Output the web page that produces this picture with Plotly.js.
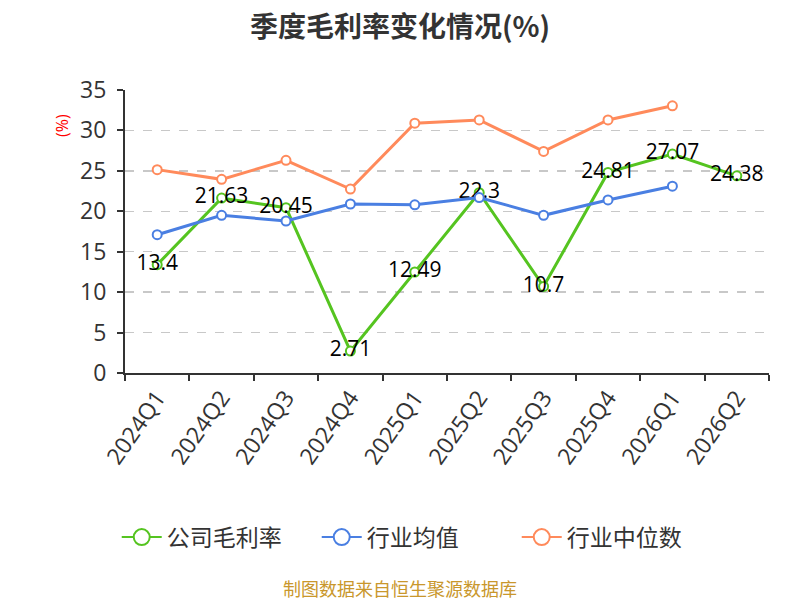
<!DOCTYPE html>
<html>
<head>
<meta charset="utf-8">
<script src="https://cdn.plot.ly/plotly-3.0.1.min.js"></script>
<style>
  html, body { margin: 0; padding: 0; background: #fff; }
  #chart { width: 800px; height: 600px; }
</style>
</head>
<body>
<div id="chart"></div>
<script>
// quarters on the x axis
var quarters = ['2024Q1', '2024Q2', '2024Q3', '2024Q4', '2025Q1', '2025Q2', '2025Q3', '2025Q4', '2026Q1', '2026Q2'];

// company gross margin (%)
var companyMargin = [13.4, 21.63, 20.45, 2.71, 12.49, 22.3, 10.7, 24.81, 27.07, 24.38];
// industry average (%)
var industryAvg = [17.1, 19.5, 18.8, 20.9, 20.8, 21.7, 19.5, 21.4, 23.1];
// industry median (%)
var industryMedian = [25.15, 23.95, 26.3, 22.75, 30.9, 31.3, 27.4, 31.3, 33.05];

var seriesNames = ['公司毛利率', '行业均值', '行业中位数'];
var seriesColors = ['#55c420', '#4a7fe2', '#ff8a5b'];

var font = '"Open Sans", "Noto Sans CJK SC", sans-serif';
var cjk = '"Noto Sans CJK SC", "Open Sans", sans-serif';

function series(i, y, withText) {
  var color = seriesColors[i];
  var t = {
    x: quarters.slice(0, y.length),
    y: y,
    name: seriesNames[i],
    type: 'scatter',
    mode: withText ? 'lines+markers+text' : 'lines+markers',
    line: {color: color, width: 3},
    marker: {symbol: 'circle', size: 9, color: '#fff', line: {color: color, width: 2}},
    cliponaxis: false,
    showlegend: false
  };
  if (withText) {
    t.text = y.map(String);
    t.textposition = 'middle center';
    t.textfont = {family: font, size: 21, color: '#000'};
  }
  return t;
}

// legend-only entries with the larger open circle symbol
function legendEntry(i) {
  var color = seriesColors[i];
  return {
    x: [null], y: [null],
    name: seriesNames[i],
    type: 'scatter',
    mode: 'lines+markers',
    line: {color: color, width: 2},
    marker: {symbol: 'circle', size: 16, color: '#fff', line: {color: color, width: 2}},
    showlegend: true,
    hoverinfo: 'skip'
  };
}

var data = [
  series(0, companyMargin, true),
  series(1, industryAvg, false),
  series(2, industryMedian, false),
  legendEntry(0), legendEntry(1), legendEntry(2)
];

var layout = {
  width: 800,
  height: 600,
  margin: {l: 125, r: 31, t: 90, b: 227},
  paper_bgcolor: '#fff',
  plot_bgcolor: '#fff',
  font: {family: font, color: '#333'},
  title: {
    text: '<b>季度毛利率变化情况(%)</b>',
    font: {family: cjk, size: 28, color: '#333'},
    x: 0.5, xanchor: 'center',
    y: 0.955, yanchor: 'middle', yref: 'container'
  },
  xaxis: {
    type: 'category',
    categoryorder: 'array',
    categoryarray: quarters,
    range: [-0.5, quarters.length - 0.5],
    tickson: 'boundaries',
    ticks: 'outside',
    ticklen: 6,
    tickwidth: 2,
    tickcolor: '#333',
    showline: true,
    linecolor: '#333',
    linewidth: 2,
    showgrid: false,
    tickangle: -55,
    tickfont: {family: font, size: 23, color: '#333'},
    fixedrange: true
  },
  yaxis: {
    range: [0, 35],
    dtick: 5,
    ticks: 'outside',
    ticklen: 6,
    tickwidth: 2,
    tickcolor: '#333',
    ticklabelstandoff: 6,
    showline: true,
    linecolor: '#333',
    linewidth: 2,
    showgrid: true,
    gridcolor: '#c8c8c8',
    griddash: 'dash',
    gridwidth: 1.5,
    zeroline: false,
    tickfont: {family: font, size: 23, color: '#333'},
    fixedrange: true
  },
  legend: {
    orientation: 'h',
    x: 0.453, xanchor: 'center',
    y: -0.58, yanchor: 'middle',
    font: {family: cjk, size: 23, color: '#333'},
    itemwidth: 40,
    entrywidth: 145,
    traceorder: 'normal'
  },
  showlegend: true,
  annotations: [
    {
      text: '(%)', textangle: -90,
      xref: 'paper', yref: 'paper', x: -0.098, y: 0.876,
      xanchor: 'center', yanchor: 'middle', showarrow: false,
      font: {family: font, size: 16, color: '#ff0000'}
    },
    {
      text: '制图数据来自恒生聚源数据库',
      xref: 'paper', yref: 'paper', x: (400 - 125) / 644, y: -0.76,
      xanchor: 'center', yanchor: 'middle', showarrow: false,
      font: {family: cjk, size: 18, color: '#c9972c'}
    }
  ]
};

Plotly.newPlot('chart', data, layout, {displayModeBar: false, staticPlot: true});
</script>
</body>
</html>
